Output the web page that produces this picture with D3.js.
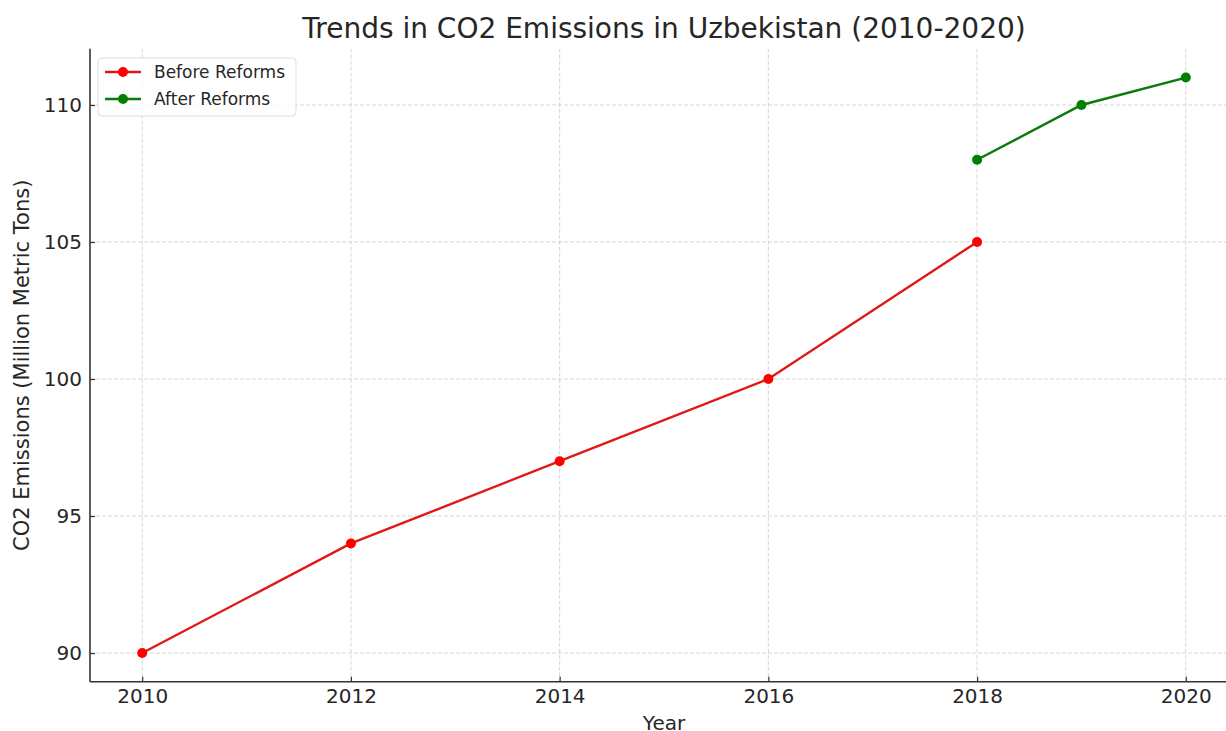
<!DOCTYPE html>
<html>
<head>
<meta charset="utf-8">
<script src="https://cdn.jsdelivr.net/npm/d3@7"></script>
<style>
  body { margin: 0; background: #fff; }
  text { font-family: "DejaVu Sans", sans-serif; fill: #262626; }
</style>
</head>
<body>
<script>
const width = 1226;
const height = 731;

// data
const beforeYears = [2010, 2012, 2014, 2016, 2018];
const beforeValues = [90, 94, 97, 100, 105];
const afterYears = [2018, 2019, 2020];
const afterValues = [108, 110, 111];
const xTicks = [2010, 2012, 2014, 2016, 2018, 2020];
const yTicks = [90, 95, 100, 105, 110];

let margin = { top: 48.8, left: 90, bottom: 681.8, right: 1238 };

let svg = d3.select("body").append("svg")
  .attr("width", width)
  .attr("height", height);

let x = d3.scaleLinear().domain([2009.5, 2020.5]).range([margin.left, margin.right]);
let y = d3.scaleLinear().domain([88.95, 112.05]).range([margin.bottom, margin.top]);

// grid
let grid = svg.append("g");
grid.selectAll(".vg").data(xTicks).join("line")
  .attr("x1", d => x(d)).attr("x2", d => x(d))
  .attr("y1", margin.top).attr("y2", margin.bottom)
  .attr("stroke", "#ccc").attr("stroke-width", 0.8).attr("stroke-dasharray", "4,2");
grid.selectAll(".hg").data(yTicks).join("line")
  .attr("y1", d => y(d)).attr("y2", d => y(d))
  .attr("x1", margin.left).attr("x2", margin.right)
  .attr("stroke", "#ccc").attr("stroke-width", 0.8).attr("stroke-dasharray", "4,2");

// axes, ticks pointing inward
let xAxis = svg.append("g").attr("transform", `translate(0, ${margin.bottom})`)
  .call(d3.axisBottom(x).tickValues(xTicks).tickFormat(d3.format("d")).tickSizeInner(-5).tickSizeOuter(0).tickPadding(7));
xAxis.select(".domain").attr("d", `M${margin.left},0H${margin.right}`);
let yAxis = svg.append("g").attr("transform", `translate(${margin.left}, 0)`)
  .call(d3.axisLeft(y).tickValues(yTicks).tickSizeInner(-5).tickSizeOuter(0).tickPadding(8));
yAxis.select(".domain").attr("d", `M0,${margin.top}V${margin.bottom}`);
[xAxis, yAxis].forEach(a => {
  a.select(".domain").attr("stroke", "#333").attr("stroke-width", 1.6);
  a.selectAll(".tick line").attr("stroke", "#333").attr("stroke-width", 1.2);
  a.selectAll("text").attr("font-size", 20).style("fill", "#262626");
});

// series
let line = d3.line().x(d => x(d[0])).y(d => y(d[1]));
function drawSeries(years, values, lineColor, dotColor) {
  let pts = years.map((yr, i) => [yr, values[i]]);
  svg.append("path").datum(pts)
    .attr("d", line).attr("fill", "none")
    .attr("stroke", lineColor).attr("stroke-width", 2.4);
  svg.append("g").selectAll("circle").data(pts).join("circle")
    .attr("cx", d => x(d[0])).attr("cy", d => y(d[1])).attr("r", 5)
    .attr("fill", dotColor);
}
drawSeries(beforeYears, beforeValues, "#e01818", "#f00");
drawSeries(afterYears, afterValues, "#0a7a0a", "#008000");

// title + labels
svg.append("text").attr("x", (margin.left + margin.right) / 2).attr("y", 38)
  .attr("text-anchor", "middle").attr("font-size", 28).text("Trends in CO2 Emissions in Uzbekistan (2010-2020)");
svg.append("text").attr("x", (margin.left + margin.right) / 2).attr("y", 730)
  .attr("text-anchor", "middle").attr("font-size", 20).text("Year");
svg.append("text").attr("transform", `translate(29, ${(margin.top + margin.bottom) / 2}) rotate(-90)`)
  .attr("text-anchor", "middle").attr("font-size", 21).text("CO2 Emissions (Million Metric Tons)");

// legend
let legend = svg.append("g").attr("transform", "translate(98, 58)");
legend.append("rect").attr("width", 198).attr("height", 58).attr("rx", 4)
  .attr("fill", "#fff").attr("fill-opacity", 0.8).attr("stroke", "#ddd");
[["Before Reforms", "#e01818", "#f00"], ["After Reforms", "#0a7a0a", "#008000"]].forEach((d, i) => {
  let row = legend.append("g").attr("transform", `translate(0, ${14 + i * 27})`);
  row.append("line").attr("x1", 7).attr("x2", 43).attr("stroke", d[1]).attr("stroke-width", 2.4);
  row.append("circle").attr("cx", 25).attr("r", 5).attr("fill", d[2]);
  row.append("text").attr("x", 56).attr("y", 6).attr("font-size", 17).text(d[0]);
});
</script>
</body>
</html>
